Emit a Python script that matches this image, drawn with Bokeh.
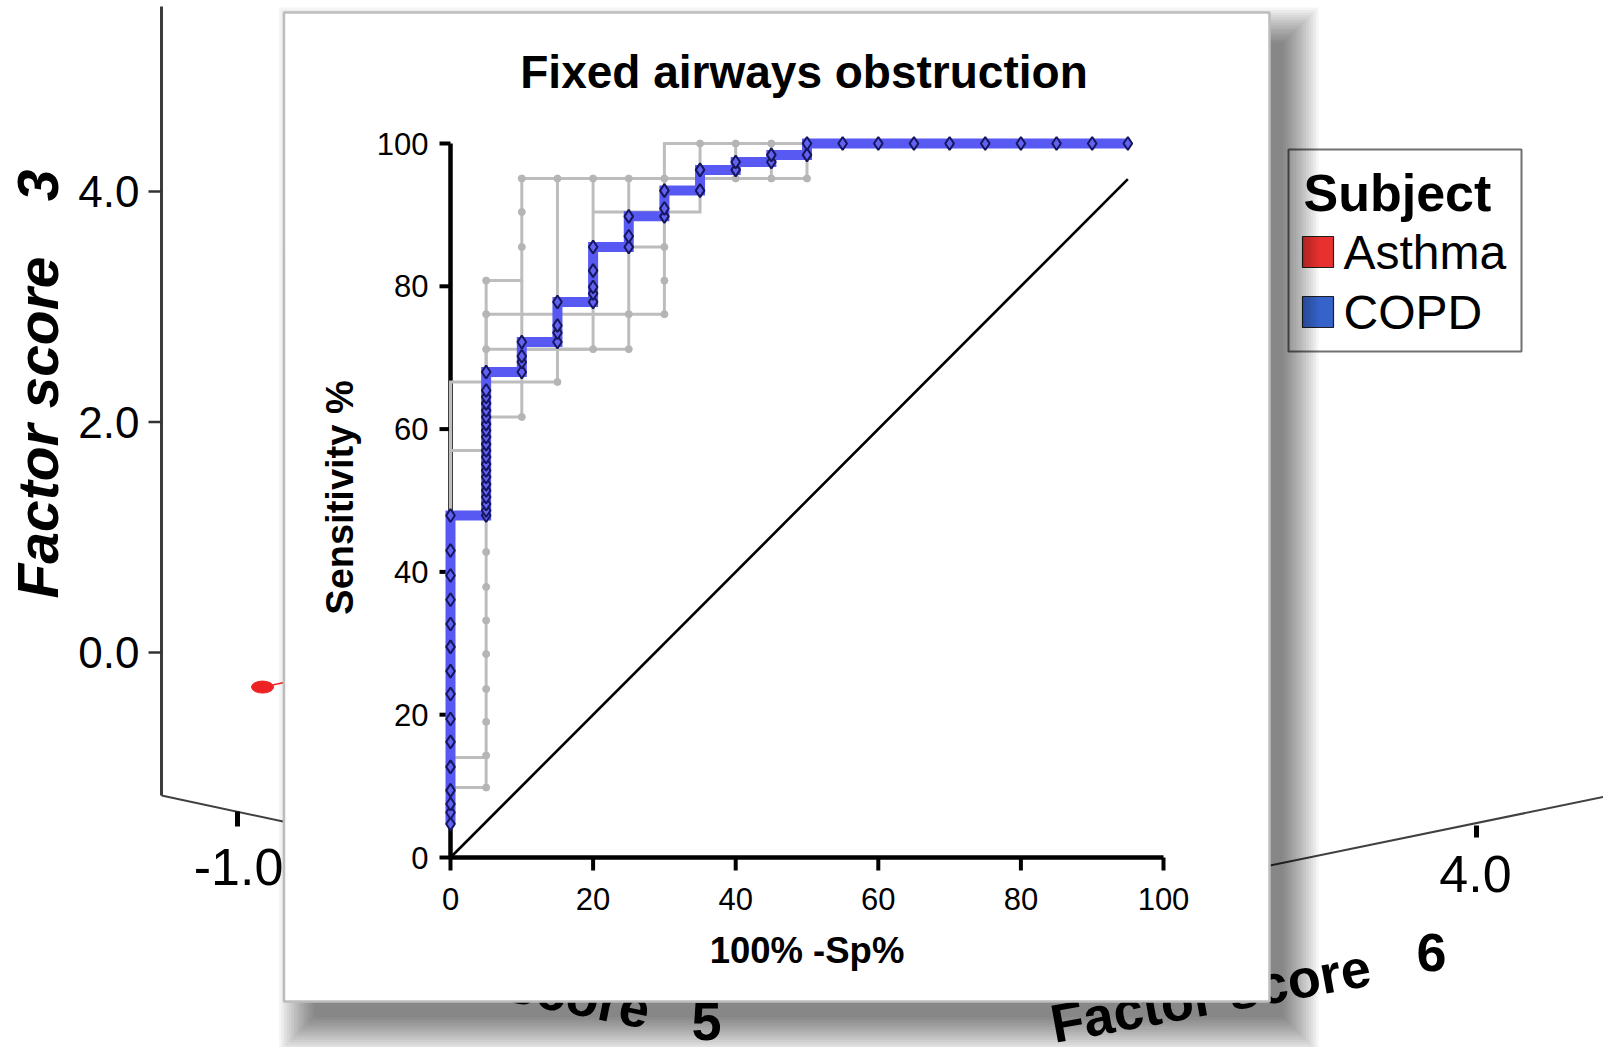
import math
from bokeh.plotting import figure
from bokeh.models import Range1d
from bokeh.core.properties import value
from bokeh.embed import file_html
from bokeh.resources import INLINE

# ---------------- ROC data ----------------
roc_x = [0, 0, 0, 0, 0, 0, 0, 0, 0, 0, 0, 0, 0, 0, 0,
         5, 5, 5, 5, 5, 5, 5, 5, 5, 5, 5, 5, 5, 5, 5, 5, 5, 5, 5, 5, 5,
         10, 10, 10, 10,
         15, 15, 15, 15,
         20, 20, 20, 20, 20,
         25, 25, 25,
         30, 30, 30,
         35, 35,
         40, 40,
         45, 45,
         50, 50,
         55, 60, 65, 70, 75, 80, 85, 90, 95]
roc_y = [4.7, 6.3, 7.5, 9.4, 12.7, 16.2, 19.4, 22.9, 26.1, 29.5, 32.7, 36.1, 39.5, 43.0, 47.9,
         47.9, 48.6, 49.5, 50.5, 51.4, 52.3, 53.3, 54.2, 55.1, 56.1, 57.0, 57.9, 58.9, 59.8, 60.7,
         61.7, 62.6, 63.6, 64.5, 65.4, 68.0,
         68.0, 69.4, 70.2, 72.2,
         72.2, 73.5, 74.5, 77.8,
         77.8, 79.0, 79.9, 82.2, 85.5,
         85.5, 87.0, 89.8,
         89.8, 90.9, 93.4,
         93.4, 96.3,
         96.3, 97.4,
         97.4, 98.4,
         98.4, 100,
         100, 100, 100, 100, 100, 100, 100, 100, 100]

# grey step curves
gray_xs = [
    [0, 0, 5, 5, 10, 10, 30, 30, 50],
    [0, 5, 5, 30, 30, 50, 50],
    [0, 5],
    [0, 5, 5, 10, 10, 25, 25],
    [5, 15, 15],
    [5, 20, 20],
    [20, 35, 35],
    [20, 30],
    [10, 10],
    [40, 40],
    [45, 45],
]
gray_ys = [
    [9.8, 66.6, 66.6, 80.8, 80.8, 95.1, 95.1, 100, 100],
    [9.8, 9.8, 76.1, 76.1, 95.1, 95.1, 100],
    [14.0, 14.0],
    [57.0, 57.0, 61.7, 61.7, 71.2, 71.2, 95.1],
    [66.6, 66.6, 95.1],
    [71.2, 71.2, 95.1],
    [90.4, 90.4, 100],
    [85.5, 85.5],
    [71.2, 80.8],
    [95.1, 100],
    [95.1, 100],
]
gray_dot_x = [5, 5, 5, 5, 5, 5, 5, 5, 5, 5, 5, 5,
              10, 10, 10, 15, 20, 25, 30, 35, 40, 45, 50,
              35, 40, 45, 30, 30, 30, 25, 25, 10, 15, 20]
gray_dot_y = [9.8, 14.3, 19.0, 23.6, 28.5, 33.2, 37.9, 42.8, 66.6, 71.2, 76.1, 80.8,
              85.5, 90.4, 95.1, 95.1, 95.1, 95.1, 95.1, 95.1, 95.1, 95.1, 95.1,
              100, 100, 100, 76.1, 80.8, 85.5, 71.2, 76.1, 61.7, 66.6, 71.2]

diag_x = [0, 95]
diag_y = [0, 95]
roc_ticks = [0, 20, 40, 60, 80, 100]
roc_title = "Fixed airways obstruction"
roc_xlabel = "100% -Sp%"
roc_ylabel = "Sensitivity %"

# background (SPSS 3-D scatter) texts / values
fs3_ticks = [4.0, 2.0, 0.0]
fs3_labels = ["4.0", "2.0", "0.0"]
fs5_tick_label = "-1.0"
fs6_tick_label = "4.0"
asthma_fs3 = [-0.3]
legend_title = "Subject"
legend_names = ["Asthma", "COPD"]
legend_colors = ["#e8312f", "#3563c9"]

# ---------------- canvas: page-pixel coordinates ----------------
W, H = 1603, 1047
PX0, PY0 = 0, 0
p = figure(x_range=Range1d(PX0, PX0 + W), y_range=Range1d(PY0 + H, PY0),
           frame_width=W, frame_height=H, min_border=0,
           x_axis_location=None, y_axis_location=None,
           output_backend="svg", toolbar_location=None, title=None)
p.outline_line_color = None
p.xgrid.visible = False
p.ygrid.visible = False
p.background_fill_color = "white"
p.border_fill_color = "white"

# ROC scale: where 0 and 100 sit on the page
RX0, RX100 = 450, 1163
RY0, RY100 = 857, 143
kx = (RX100 - RX0) / 100.0
ky = (RY0 - RY100) / 100.0
p.extra_x_ranges = {"roc": Range1d((PX0 - RX0) / kx, (PX0 + W - RX0) / kx)}
p.extra_y_ranges = {"roc": Range1d((RY0 - (PY0 + H)) / ky, (RY0 - PY0) / ky)}
ROC = dict(x_range_name="roc", y_range_name="roc")

FONT = "Liberation Sans"


def txt(x, y, s, size, style="normal", align="left", baseline="middle",
        angle=0.0, color="black", xo=0, yo=0, **kw):
    p.text(x=[x], y=[y], text=[s], text_font=value(FONT), text_font_size=value(f"{size}px"),
           text_font_style=value(style), text_align=value(align), text_baseline=value(baseline),
           angle=angle, text_color=color, x_offset=xo, y_offset=yo, **kw)


def slanted(bx, by, s, size, angle, align, style="bold"):
    # place text whose baseline passes through (bx, by) on the page, rotated by angle
    d = 0.36 * size
    txt(bx - d * math.sin(angle), by - d * math.cos(angle), s, size, style=style,
        align=align, angle=angle)


def seg(x1, y1, x2, y2, color, width, **kw):
    p.line([x1, x2], [y1, y2], line_color=color, line_width=width, **kw)


def box(l, t, r, b, **kw):
    p.quad(left=[l], right=[r], top=[t], bottom=[b], **kw)


# ---------------- background 3-D chart ----------------
def fs3_py(v):
    return 652 - 115.25 * v


seg(161, 6, 161, 795, "#3c3c3c", 3)
for v, t in zip(fs3_ticks, fs3_labels):
    seg(148, fs3_py(v), 161, fs3_py(v), "#333333", 2.5)
    txt(139, fs3_py(v), t, 44, align="right")
txt(37, 427, "Factor score", 57, style="bold italic", align="center", angle=math.pi / 2)
txt(37, 185, "3", 57, style="bold italic", align="center", angle=math.pi / 2)

seg(161, 795, 292, 823, "#404040", 2)
seg(237, 811, 237, 826, "black", 5)
txt(238, 866, fs5_tick_label, 52, align="center")
slanted(645, 1029, "Factor score", 54, -0.2, "right")
txt(706, 1021, "5", 54, style="bold", align="center")

seg(1260, 867, 1605, 796, "#404040", 2)
seg(1476, 825, 1476, 837, "black", 5)
txt(1475, 873, fs6_tick_label, 52, align="center")
slanted(1054, 1043, "Factor score", 54, 0.18, "left")
txt(1431, 952, "6", 54, style="bold", align="center")

# asthma point
ax_, ay_ = 262, fs3_py(asthma_fs3[0])
p.ellipse(x=[ax_], y=[ay_], width=22, height=12, color="#ee2222")
seg(272, ay_ - 2, 286, ay_ - 5, "#ee2222", 1.5)

# legend
box(1288, 149, 1521, 351, fill_color="white", line_color="#707070", line_width=2)
txt(1303, 192, legend_title, 52, style="bold")
for i, (nm, col) in enumerate(zip(legend_names, legend_colors)):
    top = 236 + 60 * i
    box(1302, top, 1333, top + 31, fill_color=col, line_color="#202020", line_width=1.2)
    txt(1343, top + 16, nm, 48)

# ---------------- panel with drop shadow ----------------
L, T, R, B = 283.5, 12, 1269, 1001
for k in range(15):
    e = 2.5 * k
    box(L + 30 - e, T + 30 - e, R + 14 + e, B + 16 + e,
        fill_color="black", fill_alpha=0.04, line_alpha=0)
box(L, T, R, B, fill_color="white", line_color="#bdbdbd", line_width=2.5)

# ---------------- ROC panel ----------------
lo, hi = roc_ticks[0], roc_ticks[-1]
p.line([lo, hi], [lo, lo], line_color="black", line_width=4.5, **ROC)
p.line([lo, lo], [lo, hi], line_color="black", line_width=4.5, **ROC)
p.segment(x0=roc_ticks, y0=[lo] * len(roc_ticks), x1=roc_ticks, y1=[lo - 13 / ky] * len(roc_ticks),
          line_color="black", line_width=4, **ROC)
p.segment(x0=[lo] * len(roc_ticks), y0=roc_ticks, x1=[lo - 11 / kx] * len(roc_ticks), y1=roc_ticks,
          line_color="black", line_width=4, **ROC)
p.text(x=roc_ticks, y=[lo] * len(roc_ticks), text=[str(t) for t in roc_ticks],
       text_font=value(FONT), text_font_size=value("31px"), text_align="center",
       text_baseline="middle", y_offset=41, text_color="black", **ROC)
p.text(x=[lo] * len(roc_ticks), y=roc_ticks, text=[str(t) for t in roc_ticks],
       text_font=value(FONT), text_font_size=value("31px"), text_align="right",
       text_baseline="middle", x_offset=-22, text_color="black", **ROC)
txt(50, lo, roc_xlabel, 36.5, style="bold", align="center", yo=93, **ROC)
txt(lo, 50, roc_ylabel, 38, style="bold", align="center",
    angle=math.pi / 2, xo=-111, yo=-3, **ROC)
txt(803.5, 71, roc_title, 46, style="bold", align="center")

# curves
p.line(diag_x, diag_y, line_color="black", line_width=2.6, **ROC)
p.multi_line(gray_xs, gray_ys, line_color="#bdbdbd", line_width=3, line_join="miter", **ROC)
p.scatter(gray_dot_x, gray_dot_y, size=7, color="#b5b5b5", **ROC)
p.line(roc_x, roc_y, line_color="#5858f2", line_width=10, line_join="miter", **ROC)
p.scatter(roc_x, roc_y, marker="diamond", size=13, fill_color="#6262f0",
          line_color="#16165e", line_width=2, **ROC)

open("out.html", "w").write(file_html(p, INLINE))
